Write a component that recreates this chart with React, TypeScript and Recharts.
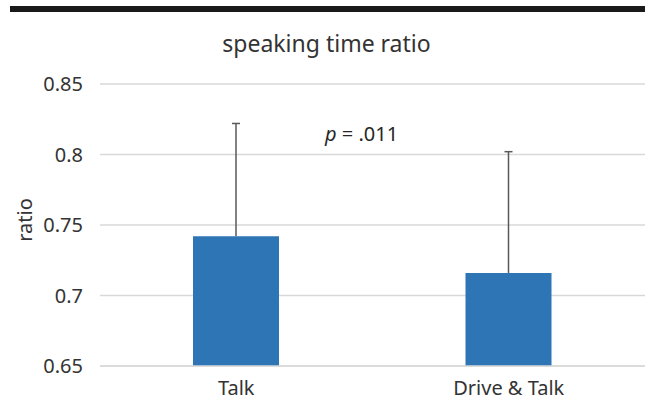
import { Bar, BarChart, CartesianGrid, XAxis, YAxis } from 'recharts'

const categories = ['Talk', 'Drive & Talk']
const ratios = [0.742, 0.716]
const upperErrors = [0.08, 0.086]
const yTicks = [0.65, 0.7, 0.75, 0.8, 0.85]

// the error bar is drawn as a range bar from the mean up to mean + error
const data = categories.map((name, i) => ({
  name,
  ratio: ratios[i],
  errRange: [ratios[i], ratios[i] + upperErrors[i]],
}))

const font = '"Noto Sans", "Open Sans", sans-serif'

function ErrorWhisker(props: any) {
  const { x, y, width, height } = props
  const cx = x + width / 2
  return (
    <g stroke="#595959" strokeWidth={1.5}>
      <line x1={cx} y1={y + height} x2={cx} y2={y} />
      <line x1={cx - 4} y1={y} x2={cx + 4} y2={y} />
    </g>
  )
}

export default function App() {
  return (
    <div style={{ position: 'absolute', left: 0, top: 0, width: 645, height: 406, background: '#fff', fontFamily: font }}>
      <div style={{ position: 'absolute', left: 10, top: 6, width: 635, height: 6, background: '#1a1a1a' }} />
      <div
        style={{
          position: 'absolute',
          left: 0,
          width: 645,
          top: 27,
          textAlign: 'center',
          fontSize: 23,
          color: '#333',
          paddingLeft: 4,
          whiteSpace: 'nowrap',
        }}
      >
        speaking time ratio
      </div>
      <div
        style={{
          position: 'absolute',
          left: 325,
          top: 120,
          fontSize: 20,
          color: '#262626',
          whiteSpace: 'nowrap',
        }}
      >
        <i>p</i> = .011
      </div>
      <BarChart
        width={645}
        height={406}
        data={data}
        margin={{ top: 84, right: 0, bottom: 10, left: 0 }}
        barSize={86}
        barGap={-86}
      >
        <CartesianGrid vertical={false} stroke="#d9d9d9" strokeWidth={1.5} />
        <XAxis
          dataKey="name"
          axisLine={{ stroke: '#d9d9d9', strokeWidth: 1.5 }}
          tickLine={false}
          tickMargin={9}
          tick={{ fill: '#333', fontSize: 20, fontFamily: font }}
        />
        <YAxis
          width={100}
          domain={[0.65, 0.85]}
          ticks={yTicks}
          tickFormatter={(v) => String(v)}
          axisLine={false}
          tickLine={false}
          tickMargin={11}
          tick={{ fill: '#333', fontSize: 20, fontFamily: font }}
          label={{
            value: 'ratio',
            content: () => (
              <text
                x={24}
                y={220}
                transform="rotate(-90 24 220)"
                textAnchor="middle"
                dominantBaseline="central"
                fill="#333"
                fontSize={20}
                fontFamily={font}
              >
                ratio
              </text>
            ),
          }}
        />
        <Bar dataKey="ratio" fill="#2e75b6" isAnimationActive={false} />
        <Bar dataKey="errRange" shape={<ErrorWhisker />} isAnimationActive={false} />
      </BarChart>
    </div>
  )
}
